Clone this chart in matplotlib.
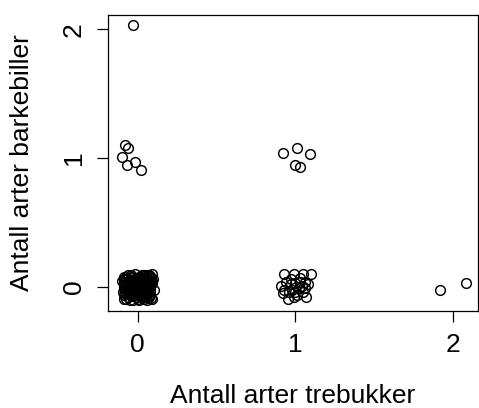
import numpy as np
import matplotlib.pyplot as plt

plt.rcParams['font.family'] = ['Liberation Sans', 'DejaVu Sans']

# jittered counts: (trebukker, barkebiller)
x00 = [-0.09, -0.06, -0.02, 0.01, 0.05, 0.08, 0.09,
       -0.08, -0.05, -0.03, 0.00, 0.03, 0.06, 0.09,
       -0.09, -0.06, -0.02, 0.02, 0.04, 0.07, 0.10,
       -0.08, -0.04, -0.01, 0.02, 0.05, 0.08,
       -0.09, -0.06, -0.03, 0.00, 0.03, 0.06, 0.09,
       -0.07, -0.04, 0.02, 0.07, -0.10, -0.05, 0.01, 0.05, 0.08, -0.07,
       -0.03, 0.04, 0.07, -0.01, 0.03, -0.06, 0.00, 0.06, -0.09, -0.02,
       0.04, 0.09, -0.05, 0.01, 0.08, -0.08,
       -0.085, -0.055, -0.035, -0.015, 0.015, 0.035, 0.055, 0.075,
       -0.075, -0.045, -0.025, 0.005, 0.025, 0.045, 0.065, 0.085,
       -0.065, -0.035, -0.005, 0.015, 0.035, 0.065, 0.095, -0.095,
       -0.075, -0.045, -0.015, 0.025, 0.055, 0.085, -0.055, 0.005,
       -0.025, 0.045, -0.085, 0.075,
       -0.062, -0.018, 0.028, 0.058, -0.042, 0.012, 0.048, -0.072,
       -0.008, 0.038, 0.072, -0.032, 0.022, -0.052, 0.062, -0.088]
y00 = [0.08, 0.09, 0.10, 0.08, 0.09, 0.07, 0.10,
       0.04, 0.05, 0.03, 0.05, 0.04, 0.05, 0.03,
       0.00, -0.01, 0.01, 0.00, -0.01, 0.01, -0.02,
       -0.05, -0.04, -0.06, -0.04, -0.05, -0.06,
       -0.09, -0.08, -0.10, -0.09, -0.08, -0.10, -0.09,
       0.06, 0.08, 0.07, 0.09, 0.05, 0.01, 0.02, 0.02, -0.03, -0.03,
       -0.07, -0.07, -0.08, -0.02, 0.06, 0.03, -0.04, -0.02, -0.06, 0.06,
       0.09, 0.05, -0.10, -0.10, 0.00, 0.02,
       0.065, 0.025, 0.075, 0.045, 0.055, 0.085, 0.035, 0.045,
       -0.015, 0.035, -0.025, 0.015, -0.015, 0.065, -0.045, 0.015,
       -0.055, -0.045, -0.075, -0.065, -0.035, -0.085, 0.065, -0.035,
       -0.095, 0.095, 0.035, 0.095, -0.075, -0.085, -0.025, -0.025,
       0.055, 0.015, -0.015, 0.085,
       0.012, -0.062, 0.022, -0.012, -0.022, 0.038, -0.058, 0.078,
       0.028, -0.092, 0.058, 0.002, -0.032, 0.048, 0.092, 0.042]

x10 = [0.93, 0.99, 1.05, 1.10, 0.91, 0.92, 0.95, 0.97, 0.98, 1.00, 1.01,
       1.03, 1.04, 1.05, 1.06, 1.07, 1.08, 0.94, 0.96, 1.02, 0.99, 1.06,
       0.93, 1.03, 0.97, 1.00]
y10 = [0.10, 0.10, 0.10, 0.10, 0.01, -0.05, -0.09, 0.06, -0.02, 0.03, -0.06,
       0.07, 0.01, -0.04, 0.04, -0.08, 0.02, 0.04, -0.04, -0.01, -0.08, -0.01,
       -0.02, 0.04, 0.02, -0.04]

x01 = [-0.08, -0.06, -0.10, -0.07, -0.02, 0.02]
y01 = [1.10, 1.08, 1.01, 0.95, 0.97, 0.91]

x11 = [0.92, 1.01, 1.09, 1.00, 1.03]
y11 = [1.04, 1.08, 1.03, 0.95, 0.93]

x_rest = [-0.03, 1.92, 2.08]
y_rest = [2.03, -0.02, 0.03]

xs = np.array(x00 + x10 + x01 + x11 + x_rest)
ys = np.array(y00 + y10 + y01 + y11 + y_rest)

fig = plt.figure(figsize=(4.79, 4.08), dpi=100)
ax = fig.add_axes([0.2255, 0.2377, 0.7725, 0.7253])
ax.plot(xs, ys, 'o', mfc='none', mec='black', ms=7, mew=1.05)

ax.set_xlim(-0.189, 2.159)
ax.set_ylim(-0.186, 2.109)
ax.set_xticks([0, 1, 2])
ax.set_yticks([0, 1, 2])
ax.tick_params(direction='out', length=8, width=0.9, labelsize=19, pad=8)
for lbl in ax.get_yticklabels():
    lbl.set_rotation(90)
    lbl.set_va('center')
for s in ax.spines.values():
    s.set_linewidth(0.9)

ax.set_xlabel('Antall arter trebukker', fontsize=19, labelpad=19)
ax.set_ylabel('Antall arter barkebiller', fontsize=19, labelpad=20)

fig.savefig('out.png', dpi=100)
